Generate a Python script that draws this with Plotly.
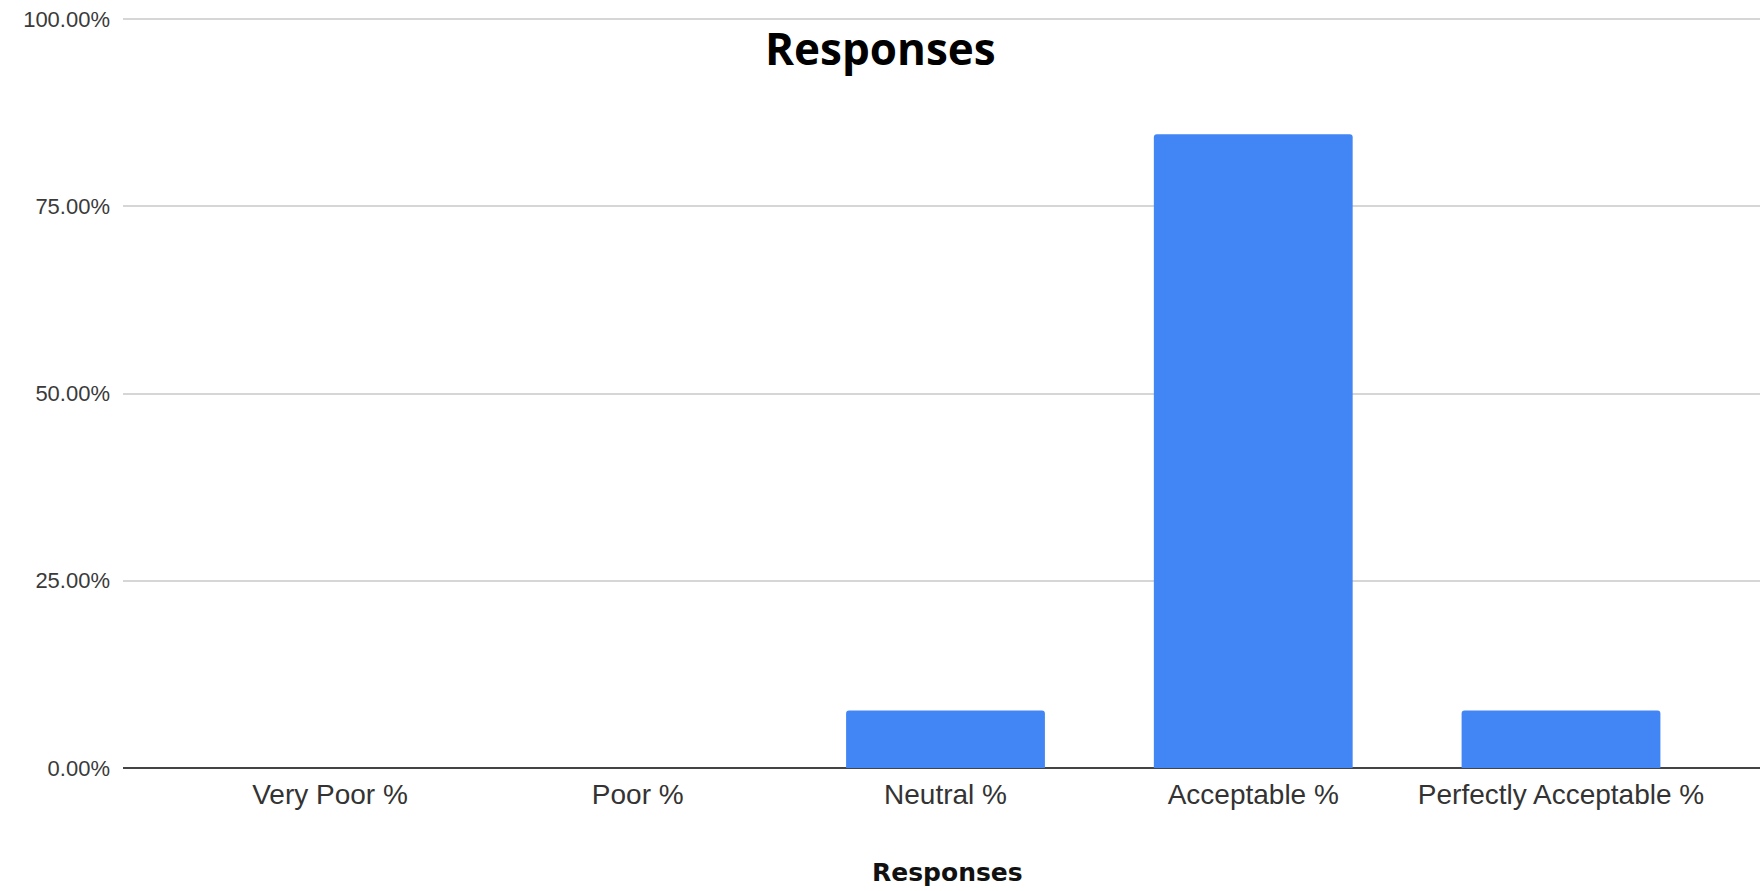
import plotly.graph_objects as go

categories = ["Very Poor %", "Poor %", "Neutral %", "Acceptable %", "Perfectly Acceptable %"]
shares = [0.0, 0.0, 0.0769, 0.8462, 0.0769]
y_ticks = [0.0, 0.25, 0.5, 0.75, 1.0]
y_tick_text = ["0.00%", "25.00%", "50.00%", "75.00%", "100.00%"]
chart_title = "Responses"
x_title = "Responses"

W, H = 1760, 891
L, R, T, B = 123, 0, 17, 123
pw, ph = W - L - R, H - T - B
y_top = 1.0 * ph / (ph - 2)

def px_x(x):
    return (x - L) / pw

def px_y(y):
    return (H - B - y) / ph

fig = go.Figure()
fig.add_trace(go.Bar(
    x=list(range(len(categories))),
    y=shares,
    width=0.646,
    marker=dict(color="#4285F4", line=dict(width=0)),
    hoverinfo="skip",
))

fig.update_layout(
    width=W, height=H, autosize=False,
    margin=dict(l=L, r=R, t=T, b=B, pad=0),
    paper_bgcolor="white", plot_bgcolor="white",
    showlegend=False,
    barcornerradius=3,
    font=dict(family="Liberation Sans, Arial, sans-serif", color="#333333"),
    xaxis=dict(
        range=[-0.6726, 4.6466],
        tickmode="array",
        tickvals=list(range(len(categories))),
        ticktext=categories,
        tickfont=dict(size=28, color="#333333"),
        showgrid=False, zeroline=False, showline=False,
        ticks="", ticklabelstandoff=7,
        automargin=False, fixedrange=True,
    ),
    yaxis=dict(
        range=[0, y_top],
        tickmode="array",
        tickvals=y_ticks,
        ticktext=y_tick_text,
        tickfont=dict(size=22, color="#3a3a3a"),
        showgrid=True, gridcolor="#d6d6d6", gridwidth=2,
        zeroline=True, zerolinecolor="#444444", zerolinewidth=2,
        showline=False, ticks="", ticklabelstandoff=12,
        automargin=False, fixedrange=True,
    ),
    annotations=[
        dict(text=chart_title, xref="paper", yref="paper",
             x=px_x(880), y=px_y(48), xanchor="center", yanchor="middle",
             showarrow=False,
             font=dict(family="Open Sans, sans-serif", size=44, color="#000000", weight="bold")),
        dict(text=x_title, xref="paper", yref="paper",
             x=px_x(947), y=px_y(872), xanchor="center", yanchor="middle",
             showarrow=False,
             font=dict(family="DejaVu Sans, sans-serif", size=25, color="#111111", weight="bold")),
    ],
)

fig.write_html("out.html", config={"displayModeBar": False})
